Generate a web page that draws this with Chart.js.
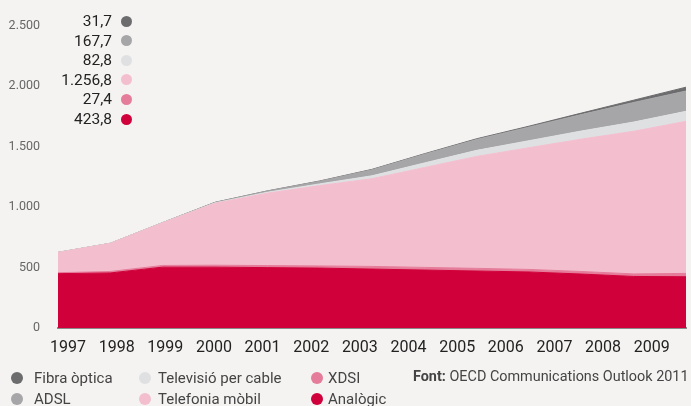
<!DOCTYPE html>
<html>
<head>
<meta charset="utf-8">
<script src="https://cdn.jsdelivr.net/npm/chart.js@4"></script>
<style>
  html, body { margin: 0; padding: 0; background: #f4f3f1; }
  #wrap { position: relative; width: 691px; height: 406px; font-family: Roboto, "DejaVu Sans", sans-serif; }
  #lines { position: absolute; left: 0; top: 0; }
  .val { position: absolute; left: 0; width: 112px; text-align: right; font-size: 15.5px; color: #222; line-height: 20px; }
  .dot { position: absolute; border-radius: 50%; }
  .leg { position: absolute; font-size: 15px; color: #444; line-height: 20px; white-space: nowrap; }
  #source { position: absolute; left: 413px; top: 368px; font-size: 14.4px; color: #444; white-space: nowrap; }
</style>
</head>
<body>
<div id="wrap">
  <canvas id="lines" width="691" height="406"></canvas>
  <div id="source"><b>Font:</b> OECD Communications Outlook 2011</div>
</div>
<script>
// Milers de línies per tecnologia, 1997-2009
const years = ['1997', '1998', '1999', '2000', '2001', '2002', '2003', '2004', '2005', '2006', '2007', '2008', '2009'];

const analogic  = [449, 455, 503, 503, 499, 495, 487, 479, 471, 463, 446, 426, 423.8];
const xdsi      = [8, 12, 14, 16, 17, 18, 22, 22, 22, 21, 21, 21, 27.4];
const mobil     = [168, 233, 353, 512, 598, 664, 725, 825, 925, 1006, 1094, 1179, 1256.8];
const cable     = [0, 0, 0, 3, 8, 14, 24, 38, 50, 58, 67, 76, 82.8];
const adsl      = [0, 0, 1, 4, 10, 22, 50, 72, 90, 112, 136, 162, 167.7];
const fibra     = [0, 0, 0, 0.5, 1, 2, 3, 4, 6, 8, 12, 19, 31.7];

const yTicks = [0, 500, 1000, 1500, 2000, 2500];

const series = [
  { label: 'Analògic',            data: analogic, color: '#d0003a' },
  { label: 'XDSI',                data: xdsi,     color: '#e57c9a' },
  { label: 'Telefonia mòbil',     data: mobil,    color: '#f3bfcf' },
  { label: 'Televisió per cable', data: cable,    color: '#dfe0e2' },
  { label: 'ADSL',                data: adsl,     color: '#a6a6a8' },
  { label: 'Fibra òptica',        data: fibra,    color: '#6c6c6e' }
];

function fmt(v, dec) {
  const parts = v.toFixed(dec).split('.');
  parts[0] = parts[0].replace(/\B(?=(\d{3})+(?!\d))/g, '.');
  return parts.join(',');
}

const wrap = document.getElementById('wrap');

// valors del 2009 a dalt a l'esquerra, de dalt a baix
series.slice().reverse().forEach((s, i) => {
  const cy = 21 + i * 19.6;
  const v = document.createElement('div');
  v.className = 'val';
  v.style.top = (cy - 10) + 'px';
  v.textContent = fmt(s.data[s.data.length - 1], 1);
  wrap.appendChild(v);
  const d = document.createElement('div');
  d.className = 'dot';
  d.style.cssText = `left:${126 - 5.5}px;top:${cy - 5.5}px;width:11px;height:11px;background:${s.color}`;
  wrap.appendChild(d);
});

// llegenda inferior, per columnes
const legendOrder = [['Fibra òptica', 'ADSL'], ['Televisió per cable', 'Telefonia mòbil'], ['XDSI', 'Analògic']];
const colDot = [17, 145, 317];
const colText = [34, 158, 328];
legendOrder.forEach((col, c) => {
  col.forEach((name, r) => {
    const s = series.find(x => x.label === name);
    const cy = 378 + r * 21;
    const d = document.createElement('div');
    d.className = 'dot';
    d.style.cssText = `left:${colDot[c] - 6}px;top:${cy - 6}px;width:12px;height:12px;background:${s.color}`;
    wrap.appendChild(d);
    const t = document.createElement('div');
    t.className = 'leg';
    t.style.left = colText[c] + 'px';
    t.style.top = (cy - 10) + 'px';
    t.textContent = name;
    wrap.appendChild(t);
  });
});

const ctx = document.getElementById('lines').getContext('2d');
new Chart(ctx, {
  type: 'line',
  data: {
    labels: years,
    datasets: series.map((s, i) => ({
      label: s.label,
      data: s.data,
      backgroundColor: s.color,
      borderColor: s.color,
      borderWidth: 1,
      pointRadius: 0,
      tension: 0,
      fill: i === 0 ? 'origin' : '-1'
    }))
  },
  options: {
    responsive: false,
    animation: false,
    layout: { padding: { top: 20, right: 5, left: 0, bottom: 0 } },
    plugins: { legend: { display: false }, tooltip: { enabled: false } },
    scales: {
      // eix de les dades: només la línia de base
      x: {
        grid: { display: false, drawTicks: false },
        border: { display: true, color: '#8a8a8a', width: 2 },
        ticks: { display: false },
        afterFit: (scale) => { scale.height = 0; scale.paddingLeft = 0; scale.paddingRight = 0; }
      },
      // eix dels rètols dels anys, una mica més estret que les dades
      years: {
        type: 'linear',
        position: 'bottom',
        min: 1996.794,
        max: 2009.705,
        grid: { display: false, drawTicks: false },
        border: { display: false },
        afterBuildTicks: (scale) => { scale.ticks = years.map(y => ({ value: Number(y) })); },
        ticks: {
          color: '#222',
          font: { family: 'Roboto', size: 16 },
          padding: 10,
          maxRotation: 0,
          autoSkip: false,
          callback: (v, i) => years[i]
        },
        afterFit: (scale) => { scale.height = 78; scale.paddingLeft = 0; scale.paddingRight = 0; }
      },
      y: {
        stacked: true,
        min: 0,
        max: 2500,
        grid: { display: false, drawTicks: false },
        border: { display: false },
        afterBuildTicks: (scale) => { scale.ticks = yTicks.map(v => ({ value: v })); },
        ticks: {
          color: '#666',
          font: { family: 'Roboto', size: 12.5 },
          padding: 18,
          callback: (v) => fmt(v, 0)
        },
        afterFit: (scale) => { scale.width = 58; }
      }
    }
  }
});
</script>
</body>
</html>
